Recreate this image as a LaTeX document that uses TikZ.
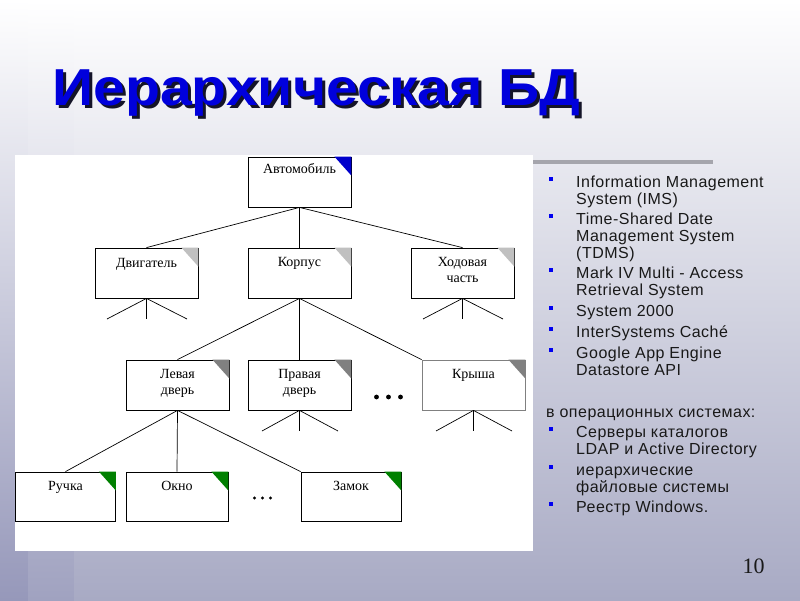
\documentclass[tikz,border=0pt]{standalone}
\usepackage{fontspec}
\setmainfont{Liberation Serif}
\newfontfamily\titlefont{Liberation Sans}
\newfontfamily\listfont[LetterSpace=3]{Liberation Sans}
\newcommand\twolines[2]{\vtop{\hbox{#1}\hbox{#2}}}
\newcommand\threelines[3]{\vtop{\hbox{#1}\hbox{#2}\hbox{#3}}}
\newcommand\titletext{\scalebox{1.1}[1]{Иерархическая БД}}
\definecolor{bgbot}{RGB}{168,170,196}
\definecolor{bandA}{RGB}{150,152,186}
\definecolor{bandB}{RGB}{160,162,192}
\definecolor{titleblue}{RGB}{0,0,220}
\definecolor{shadowc}{RGB}{20,20,40}
\definecolor{cblue}{RGB}{0,0,204}
\definecolor{cgray}{RGB}{192,192,192}
\definecolor{cdark}{RGB}{128,128,128}
\definecolor{cgreen}{RGB}{0,128,0}
\definecolor{textgray}{RGB}{25,25,25}
\definecolor{barc}{RGB}{165,165,172}
\definecolor{bulletc}{RGB}{0,0,240}
\begin{document}
\begin{tikzpicture}[x=1pt,y=-1pt,
  box/.style={draw=black, line width=0.8pt, fill=white, minimum width=103pt, minimum height=50pt, inner sep=0pt},
  lbl/.style={font=\fontsize{14}{16}\selectfont, align=center, inner sep=0pt, anchor=base},
  conn/.style={draw=black, line width=0.7pt},
  item/.style={anchor=base west, inner sep=0pt, font=\listfont\fontsize{16}{17}\selectfont, text=textgray},
  bul/.style={fill=bulletc},
  dotc/.style={fill=black}
  ]
\useasboundingbox (0,0) rectangle (800,600);
% background
\shade[top color=white, bottom color=bgbot] (0,0) rectangle (800,600);
\shade[top color=white, bottom color=bandA] (0,0) rectangle (28,600);
\shade[top color=white, bottom color=bandB] (28,0) rectangle (74,600);
\shade[top color=white, bottom color=bgbot] (74,0) rectangle (800,600);
% title with shadow (one text node)
\node[anchor=base west, inner sep=0pt, text=titleblue, font=\titlefont\bfseries\fontsize{52}{52}\selectfont] (title) at (52,105)
  {\rlap{\hspace{3pt}\raisebox{-3pt}{\textcolor{shadowc}{\titletext}}}\titletext};
% panel and bar
\fill[white] (15,155) rectangle (533,551);
\fill[barc] (533,160) rectangle (713,164);
% boxes
\node[box] (car) at (299.5,182) {};
\node[box] (eng) at (146.5,273) {};
\node[box] (body) at (299.5,273) {};
\node[box] (chas) at (462.5,273) {};
\node[box] (ld) at (177.5,385) {};
\node[box] (rd) at (299.5,385) {};
\node[box, draw=cdark] (roof) at (473.5,385) {};
\node[box, minimum width=100pt, minimum height=49pt] (hdl) at (65.5,496.5) {};
\node[box, minimum width=102pt, minimum height=49pt] (win) at (177,496.5) {};
\node[box, minimum width=100pt, minimum height=49pt] (lock) at (351,496.5) {};
% corners
\foreach \n/\c in {car/cblue, eng/cgray, body/cgray, chas/cgray, ld/cdark, rd/cdark, roof/cdark, hdl/cgreen, win/cgreen, lock/cgreen}
  \fill[\c] ([xshift=-17pt]\n.north east) -- (\n.north east) -- ([yshift=-19pt]\n.north east) -- cycle;
% labels
\node[lbl] (car-t) at ([yshift=-17pt]car.north) {Автомобиль};
\node[lbl] (eng-t) at ([yshift=-20pt]eng.north) {Двигатель};
\node[lbl] (body-t) at ([yshift=-19pt]body.north) {Корпус};
\node[lbl] (chas-t) at ([yshift=-35pt]chas.north) {Ходовая\\часть};
\node[lbl] (ld-t) at ([yshift=-35pt]ld.north) {Левая\\дверь};
\node[lbl] (rd-t) at ([yshift=-35pt]rd.north) {Правая\\дверь};
\node[lbl] (roof-t) at ([yshift=-19pt]roof.north) {Крыша};
\node[lbl] (hdl-t) at ([yshift=-19pt]hdl.north) {Ручка};
\node[lbl] (win-t) at ([yshift=-19pt]win.north) {Окно};
\node[lbl] (lock-t) at ([yshift=-19pt]lock.north) {Замок};
% free ends
\coordinate (e1) at (107,319); \coordinate (e2) at (146.5,319); \coordinate (e3) at (187,319);
\coordinate (c1) at (423,319); \coordinate (c2) at (462.5,319); \coordinate (c3) at (503,319);
\coordinate (r1) at (262,431); \coordinate (r2) at (299.5,431); \coordinate (r3) at (338,431);
\coordinate (k1) at (436,431); \coordinate (k2) at (473.5,431); \coordinate (k3) at (512,431);
% connectors
\draw[conn] (car.south) -- (eng.north);
\draw[conn] (car.south) -- (body.north);
\draw[conn] (car.south) -- (chas.north);
\draw[conn] (body.south) -- (ld.north);
\draw[conn] (body.south) -- (rd.north);
\draw[conn] (body.south) -- (roof.north west);
\draw[conn] (ld.south) -- (hdl.north);
\draw[conn] (ld.south) -- (win.north);
\draw[conn] (ld.south) -- (lock.north west);
\foreach \p in {e1,e2,e3} \draw[conn] (eng.south) -- (\p);
\foreach \p in {c1,c2,c3} \draw[conn] (chas.south) -- (\p);
\foreach \p in {r1,r2,r3} \draw[conn] (rd.south) -- (\p);
\foreach \p in {k1,k2,k3} \draw[conn] (roof.south) -- (\p);
% dots
\foreach \x in {376.5,388.5,400.5} \fill[dotc] (\x,397) circle (2.4pt);
\foreach \x in {254.5,262.5,270.5} \fill[dotc] (\x,498) circle (1.7pt);
% bullet list
\foreach \y in {179,216,270,308,329,350,429,467,504} \fill[bul] (549,\y-2) rectangle (553,\y+2);
\node[item] (i1) at (576,187) {\twolines{Information Management}{System (IMS)}};
\node[item] (i2) at (576,224) {\threelines{Time-Shared Date}{Management System}{(TDMS)}};
\node[item] (i3) at (576,278) {\twolines{Mark IV Multi - Access}{Retrieval System}};
\node[item] (i4) at (576,316) {System 2000};
\node[item] (i5) at (576,337) {InterSystems Caché};
\node[item] (i6) at (576,358) {\twolines{Google App Engine}{Datastore API}};
\node[item] (os) at (546,417) {в операционных системах:};
\node[item] (i7) at (576,437) {\twolines{Серверы каталогов}{LDAP и Active Directory}};
\node[item] (i8) at (576,475) {\twolines{иерархические}{файловые системы}};
\node[item] (i9) at (576,512) {Реестр Windows.};
% page number
\node[anchor=base, inner sep=0pt, font=\fontsize{22}{22}\selectfont, text=textgray] (pn) at (753.5,573) {10};
\end{tikzpicture}
\end{document}
